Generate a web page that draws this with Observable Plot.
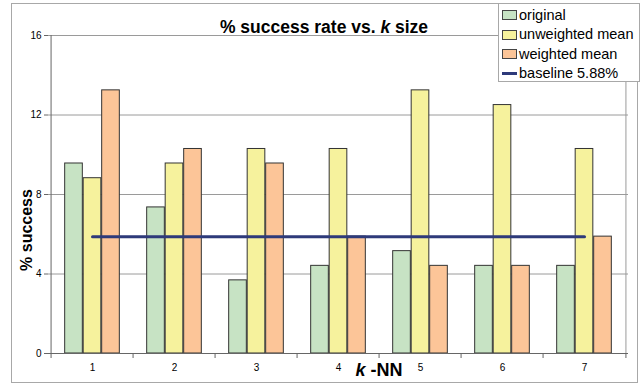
<!DOCTYPE html>
<html><head><meta charset="utf-8">
<script src="https://cdn.jsdelivr.net/npm/d3@7"></script>
<script src="https://cdn.jsdelivr.net/npm/@observablehq/plot@0.6"></script>
<style>
body{margin:0;background:#fff;font-family:"Liberation Sans",Arial,sans-serif}
#wrap{position:relative;width:644px;height:385px;overflow:hidden}
#frame{position:absolute;left:11px;top:3px;width:627px;height:380px;border:1px solid #a8a8a8;box-sizing:border-box}
#chart{position:absolute;left:0;top:0}
#title{position:absolute;left:0;width:648px;top:17px;text-align:center;font-weight:bold;font-size:17.5px;color:#000}
#ylab{position:absolute;left:27px;top:230px;transform:translate(-50%,-50%) rotate(-90deg);font-weight:bold;font-size:16px;white-space:nowrap}
#xlab{position:absolute;left:379px;top:360px;transform:translateX(-50%);font-weight:bold;font-size:18px;white-space:nowrap}
#legend{position:absolute;left:498px;top:3px;width:142px;height:79px;border:1px solid #a8a8a8;background:#fff;box-sizing:border-box;font-size:14.5px}
.row{position:absolute;left:3px;height:19px;line-height:19px;white-space:nowrap}
.sw{display:inline-block;width:13px;height:8px;border:1px solid #444;vertical-align:middle;margin-right:2px;position:relative;top:-1px}
.ln{display:inline-block;width:15px;height:3px;background:#2e3a7a;vertical-align:middle;margin-right:2px;position:relative;top:-1px}
</style></head>
<body>
<div id="wrap">
  <div id="frame"></div>
  <div id="chart"></div>
  <div id="title">% success rate vs. <i>k</i> size</div>
  <div id="ylab">% success</div>
  <div id="xlab"><i>k</i> -NN</div>
  <div id="legend"></div>
</div>
<script>
const ks = [1, 2, 3, 4, 5, 6, 7];
const original = [9.56, 7.35, 3.68, 4.41, 5.15, 4.41, 4.41];
const unweighted = [8.82, 9.56, 10.29, 10.29, 13.24, 12.5, 10.29];
const weighted = [13.24, 10.29, 9.56, 5.88, 4.41, 4.41, 5.88];
const baseline = 5.88;
const yTicks = [0, 4, 8, 12, 16];
const seriesNames = ["original", "unweighted mean", "weighted mean"];
const seriesColors = ["#c7e3c4", "#f6f29d", "#fcc598"];
const baselineName = "baseline 5.88%";

const W = 644, H = 385, mL = 48, mR = 16, mT = 35, mB = 32;
const bw = (W - mL - mR) / ks.length;
const barW = 18.5;
const groupOff = (bw - barW * 3) / 2;

const seriesVals = [original, unweighted, weighted];
const barMarks = seriesVals.map((vals, i) =>
  Plot.barY(ks.map((k, j) => ({k, v: vals[j]})), {
    x: "k", y: "v",
    fill: seriesColors[i], stroke: "#333", strokeWidth: 1,
    insetLeft: groupOff + i * barW,
    insetRight: bw - groupOff - (i + 1) * barW
  })
);

const chart = Plot.plot({
  width: W, height: H,
  marginLeft: mL, marginRight: mR, marginTop: mT, marginBottom: mB,
  style: {background: "transparent", fontFamily: "Liberation Sans, Arial, sans-serif"},
  x: {type: "band", domain: ks, padding: 0},
  y: {domain: [0, 16]},
  marks: [
    Plot.ruleY(yTicks.filter(t => t > 0), {stroke: "#9a9a9a", strokeWidth: 1}),
    Plot.ruleX([ks[ks.length - 1]], {x: d => d, y1: 0, y2: 16, dx: bw / 2, stroke: "#9a9a9a"}),
    ...barMarks,
    Plot.lineY([{k: ks[0], v: baseline}, {k: ks[ks.length - 1], v: baseline}], {x: "k", y: "v", stroke: "#2e3a7a", strokeWidth: 3}),
    Plot.ruleY([0], {stroke: "#666"}),
    Plot.ruleX([ks[0]], {x: d => d, y1: 0, y2: 16, dx: -bw / 2, stroke: "#666"}),
    Plot.ruleX(ks, {x: d => d, y1: 0, y2: 0, insetBottom: -5, dx: -bw / 2, stroke: "#666"}),
    Plot.ruleX([ks[ks.length - 1]], {x: d => d, y1: 0, y2: 0, insetBottom: -5, dx: bw / 2, stroke: "#666"}),
    Plot.axisY({ticks: yTicks, tickSize: 4, tickPadding: 3, fontSize: 10, label: null, stroke: "#666", color: "#000"}),
    Plot.axisX({tickSize: 0, tickPadding: 10, fontSize: 10, label: null, color: "#000"})
  ]
});
document.getElementById("chart").appendChild(chart);

const leg = document.getElementById("legend");
seriesNames.forEach((n, i) => {
  const r = document.createElement("div");
  r.className = "row"; r.style.top = (2 + i * 19.4) + "px";
  r.innerHTML = `<span class="sw" style="background:${seriesColors[i]}"></span>${n}`;
  leg.appendChild(r);
});
const r = document.createElement("div");
r.className = "row"; r.style.top = (2 + 3 * 19.4) + "px";
r.innerHTML = `<span class="ln"></span>${baselineName}`;
leg.appendChild(r);
</script>
</body></html>
